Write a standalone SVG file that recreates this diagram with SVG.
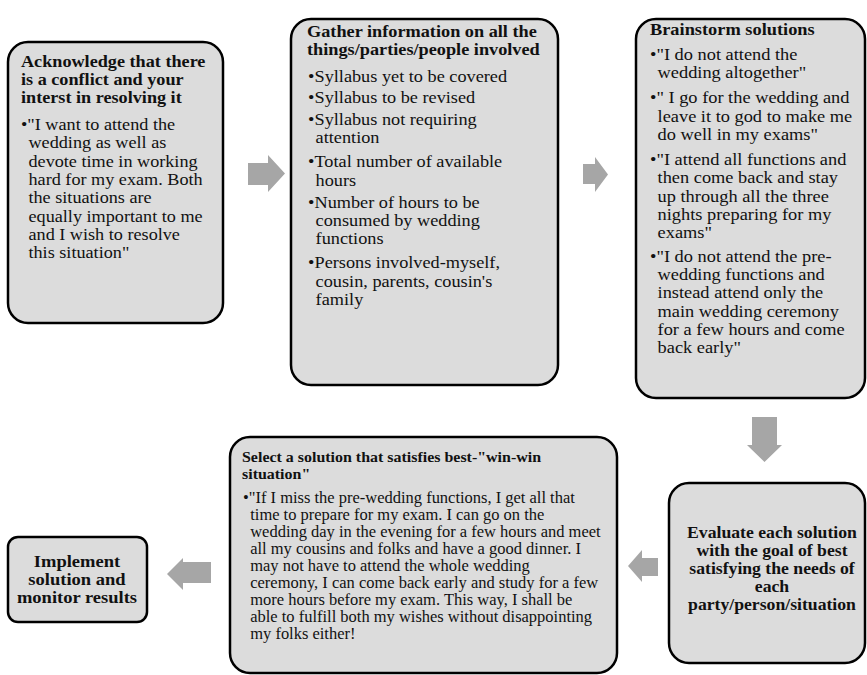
<svg xmlns="http://www.w3.org/2000/svg" width="867" height="675" viewBox="0 0 867 675">
<style>
.box{fill:#dcdcdc;stroke:#000;stroke-width:2.5}
.arr{fill:#a6a6a6}
text{font-family:'Liberation Serif','DejaVu Serif',serif;fill:#111}
.t{font-weight:bold;font-size:17px}
.b{font-size:17px}
.s{font-size:16px}
.st{font-weight:bold;font-size:15.5px}
.c{font-weight:bold;font-size:17px;text-anchor:middle}
</style>
<rect width="867" height="675" fill="#fff"/>
<g id="connectors">
<polygon class="arr" points="248,163 268,163 268,155 285,173.5 268,192 268,185 248,185"/>
<polygon class="arr" points="583,164 595,164 595,157 608,174.5 595,192 595,184 583,184"/>
<polygon class="arr" points="752,417 777,417 777,445 782,445 764.5,462 747,445 752,445"/>
<polygon class="arr" points="658,558 642,558 642,550 628,566 642,582 642,576 658,576"/>
<polygon class="arr" points="211,562 183,562 183,558 167,574 183,590 183,583 211,583"/>
</g>
<g id="acknowledge">
<rect class="box" x="8" y="42" width="215" height="281" rx="20"/>
<g transform="matrix(1.07,0,0,1,-1.47,0)">
<text class="t" x="21" y="67">Acknowledge that there</text>
<text class="t" x="21" y="85">is a conflict and your</text>
<text class="t" x="21" y="103">interst in resolving it</text>
<text class="b" x="21" y="130">•"I want to attend the</text>
<text class="b" x="28" y="148">wedding as well as</text>
<text class="b" x="28" y="167">devote time in working</text>
<text class="b" x="28" y="185">hard for my exam. Both</text>
<text class="b" x="28" y="203">the situations are</text>
<text class="b" x="28" y="222">equally important to me</text>
<text class="b" x="28" y="240">and I wish to resolve</text>
<text class="b" x="28" y="258">this situation"</text>
</g>
</g>
<g id="gather">
<rect class="box" x="291" y="19" width="267" height="366" rx="20"/>
<g transform="matrix(1.075,0,0,1,-23,0)">
<text class="t" x="307" y="37">Gather information on all the</text>
<text class="t" x="307" y="55">things/parties/people involved</text>
<text class="b" x="308" y="82">•Syllabus yet to be covered</text>
<text class="b" x="308" y="103">•Syllabus to be  revised</text>
<text class="b" x="308" y="125">•Syllabus not requiring</text>
<text class="b" x="315" y="143">attention</text>
<text class="b" x="308" y="167">•Total number of available</text>
<text class="b" x="315" y="186">hours</text>
<text class="b" x="308" y="208">•Number of hours to be</text>
<text class="b" x="315" y="226">consumed by wedding</text>
<text class="b" x="315" y="244">functions</text>
<text class="b" x="308" y="268">•Persons involved-myself,</text>
<text class="b" x="315" y="287">cousin, parents, cousin's</text>
<text class="b" x="315" y="305">family</text>
</g>
</g>
<g id="brainstorm">
<rect class="box" x="636" y="19" width="229" height="379" rx="20"/>
<g transform="matrix(1.08,0,0,1,-52,0)">
<text class="t" x="650" y="35">Brainstorm solutions</text>
<text class="b" x="650" y="60">•"I do not attend the</text>
<text class="b" x="657" y="78">wedding altogether"</text>
<text class="b" x="650" y="103">•" I go for the wedding and</text>
<text class="b" x="657" y="122">leave it to god to make me</text>
<text class="b" x="657" y="140">do well in my exams"</text>
<text class="b" x="650" y="165">•"I attend all functions and</text>
<text class="b" x="657" y="183">then come back and stay</text>
<text class="b" x="657" y="202">up through all the three</text>
<text class="b" x="657" y="220">nights preparing for my</text>
<text class="b" x="657" y="238">exams"</text>
<text class="b" x="650" y="262">•"I do not attend the pre-</text>
<text class="b" x="657" y="280">wedding functions and</text>
<text class="b" x="657" y="298">instead attend only the</text>
<text class="b" x="657" y="317">main wedding ceremony</text>
<text class="b" x="657" y="335">for a few hours and come</text>
<text class="b" x="657" y="353">back early"</text>
</g>
</g>
<g id="select">
<rect class="box" x="230" y="437" width="387" height="236" rx="20"/>
<g transform="matrix(1.03,0,0,1,-7.26,0)">
<text class="st" x="242" y="462">Select a solution that satisfies best-"win-win</text>
<text class="st" x="242" y="479">situation"</text>
<text class="s" x="243" y="503">•"If I miss the pre-wedding functions, I get  all that</text>
<text class="s" x="250" y="520">time to prepare for my exam. I can go on the</text>
<text class="s" x="250" y="537">wedding day in the evening for a few hours and meet</text>
<text class="s" x="250" y="554">all my cousins and folks and have a good dinner. I</text>
<text class="s" x="250" y="571">may not have to attend the whole wedding</text>
<text class="s" x="250" y="588">ceremony, I can come back early and study for a few</text>
<text class="s" x="250" y="605">more hours before my exam. This way, I shall be</text>
<text class="s" x="250" y="622">able to fulfill  both my wishes without disappointing</text>
<text class="s" x="250" y="639">my folks either!</text>
</g>
</g>
<g id="evaluate">
<rect class="box" x="669" y="483" width="196" height="180" rx="20"/>
<g transform="matrix(1.04,0,0,1,-30.88,0)">
<text class="c" x="772" y="538">Evaluate each solution</text>
<text class="c" x="772" y="556">with the goal of best</text>
<text class="c" x="772" y="574">satisfying the needs of</text>
<text class="c" x="772" y="592">each</text>
<text class="c" x="772" y="610">party/person/situation</text>
</g>
</g>
<g id="implement">
<rect class="box" x="8" y="537" width="139" height="85" rx="10"/>
<g transform="matrix(1.09,0,0,1,-6.93,0)">
<text class="c" x="77" y="567">Implement</text>
<text class="c" x="77" y="585">solution and</text>
<text class="c" x="77" y="603">monitor results</text>
</g>
</g>
</svg>
